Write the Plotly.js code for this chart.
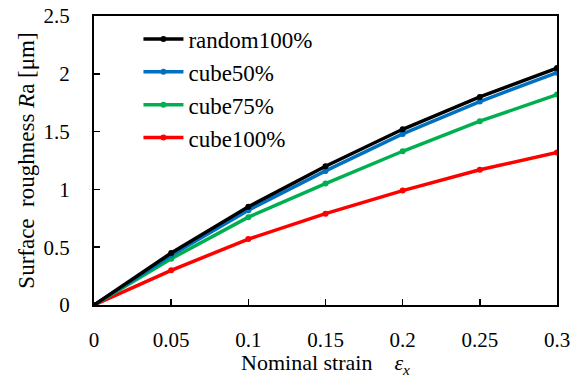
<!DOCTYPE html>
<html><head><meta charset="utf-8">
<script src="https://cdn.plot.ly/plotly-3.0.1.min.js"></script>
<style>body{margin:0;background:#fff}#c{width:584px;height:378px}</style>
</head><body><div id="c"></div>
<script>
const strain = [0, 0.05, 0.1, 0.15, 0.2, 0.25, 0.3];
const random100 = [0, 0.45, 0.85, 1.20, 1.52, 1.80, 2.05];
const cube50 = [0, 0.43, 0.82, 1.16, 1.48, 1.76, 2.01];
const cube75 = [0, 0.40, 0.76, 1.05, 1.33, 1.59, 1.82];
const cube100 = [0, 0.30, 0.57, 0.79, 0.99, 1.17, 1.32];
const names = ["random100%", "cube50%", "cube75%", "cube100%"];
const colors = ["#000000", "#0070C0", "#00B050", "#FF0000"];
const series = [random100, cube50, cube75, cube100];
const traces = series.map((s, i) => ({
  x: strain, y: s, name: names[i], type: "scatter", mode: "lines+markers",
  line: {color: colors[i], width: 3.5}, marker: {color: colors[i], size: 6}
})).reverse();
const fam = "Times New Roman, Liberation Serif, serif";
Plotly.newPlot("c", traces, {
  width: 584, height: 378,
  margin: {l: 94, r: 27, t: 16, b: 73},
  paper_bgcolor: "#fff", plot_bgcolor: "#fff",
  font: {family: fam, color: "#000", size: 20},
  showlegend: true,
  legend: {x: 0.096, y: 0.995, xanchor: "left", yanchor: "top", traceorder: "reversed",
    font: {family: fam, color: "#000", size: 23}, bgcolor: "rgba(0,0,0,0)", tracegroupgap: 0, itemwidth: 40},
  xaxis: {range: [0, 0.3], tickvals: [0,0.05,0.1,0.15,0.2,0.25,0.3],
    ticktext: ["0","0.05","0.1","0.15","0.2","0.25","0.3"],
    ticks: "inside", ticklen: 6, tickwidth: 1.5, tickcolor: "#000",
    showline: true, linecolor: "#000", linewidth: 2, mirror: true, showgrid: false, zeroline: false,
    tickfont: {family: fam, color: "#000", size: 21}, ticklabelstandoff: 15,
    title: {text: "Nominal strain    <i>ε<sub>x</sub></i>", font: {family: fam, color: "#000", size: 22}, standoff: 0}},
  yaxis: {range: [0, 2.5], tickvals: [0,0.5,1,1.5,2,2.5],
    ticktext: ["0","0.5","1","1.5","2","2.5"],
    ticks: "inside", ticklen: 6, tickwidth: 1.5, tickcolor: "#000",
    showline: true, linecolor: "#000", linewidth: 2, mirror: true, showgrid: false, zeroline: false,
    tickfont: {family: fam, color: "#000", size: 21}, ticklabelstandoff: 18,
    title: {text: "Surface  roughness <i>R</i>a [μm]", font: {family: fam, color: "#000", size: 23}, standoff: 2}}
}, {displayModeBar: false, staticPlot: true});
</script></body></html>
